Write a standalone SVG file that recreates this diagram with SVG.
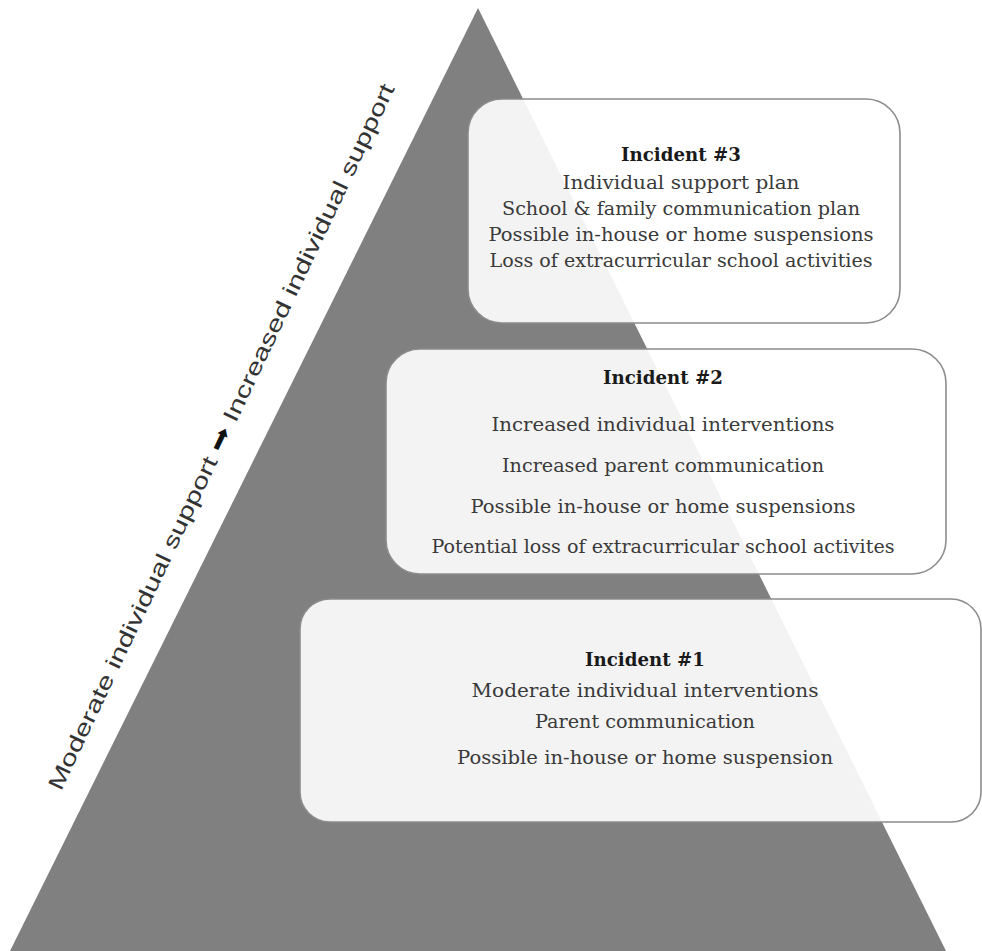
<svg xmlns="http://www.w3.org/2000/svg" width="982" height="951" viewBox="0 0 982 951">
<style>
.box{fill:#ffffff;fill-opacity:0.9;stroke:#8c8c8c;stroke-width:1.6}
.t{font-family:"DejaVu Serif","Liberation Serif",serif;font-size:19px;fill:#3a3a3a;text-anchor:middle}
.h{font-family:"DejaVu Serif","Liberation Serif",serif;font-size:19px;font-weight:bold;fill:#1a1a1a;text-anchor:middle}
.side{font-family:"Liberation Sans","DejaVu Sans",sans-serif;font-size:22px;fill:#333;text-anchor:middle}
</style>
<rect width="982" height="951" fill="#ffffff"/>
<g id="pyramid">
<polygon points="478,8 10,951 946,951" fill="#808080"/>
</g>
<g id="side-label">
<text class="side" transform="translate(228,440) rotate(-64.6)" textLength="779" lengthAdjust="spacingAndGlyphs">Moderate individual support <tspan font-family="DejaVu Sans" fill="#111">➡</tspan> Increased individual support</text>
</g>
<g id="connectors"></g>
<g id="incident3">
<rect class="box" x="468" y="99" width="432" height="224" rx="34"/>
<text class="h" x="681" y="161" textLength="120" lengthAdjust="spacingAndGlyphs">Incident #3</text>
<text class="t" x="681" y="189" textLength="237" lengthAdjust="spacingAndGlyphs">Individual support plan</text>
<text class="t" x="681" y="215" textLength="358" lengthAdjust="spacingAndGlyphs">School &amp; family communication plan</text>
<text class="t" x="681" y="241" textLength="385" lengthAdjust="spacingAndGlyphs">Possible in-house or home suspensions</text>
<text class="t" x="681" y="267" textLength="383" lengthAdjust="spacingAndGlyphs">Loss of extracurricular school activities</text>
</g>
<g id="incident2">
<rect class="box" x="386" y="349" width="560" height="225" rx="34"/>
<text class="h" x="663" y="384" textLength="120" lengthAdjust="spacingAndGlyphs">Incident #2</text>
<text class="t" x="663" y="431" textLength="343" lengthAdjust="spacingAndGlyphs">Increased individual interventions</text>
<text class="t" x="663" y="472" textLength="322" lengthAdjust="spacingAndGlyphs">Increased parent communication</text>
<text class="t" x="663" y="513" textLength="385" lengthAdjust="spacingAndGlyphs">Possible in-house or home suspensions</text>
<text class="t" x="663" y="553" textLength="463" lengthAdjust="spacingAndGlyphs">Potential loss of extracurricular school activites</text>
</g>
<g id="incident1">
<rect class="box" x="300" y="599" width="681" height="223" rx="30"/>
<text class="h" x="645" y="666" textLength="120" lengthAdjust="spacingAndGlyphs">Incident #1</text>
<text class="t" x="645" y="697" textLength="347" lengthAdjust="spacingAndGlyphs">Moderate individual interventions</text>
<text class="t" x="645" y="728" textLength="220" lengthAdjust="spacingAndGlyphs">Parent communication</text>
<text class="t" x="645" y="764" textLength="376" lengthAdjust="spacingAndGlyphs">Possible in-house or home suspension</text>
</g>
</svg>
